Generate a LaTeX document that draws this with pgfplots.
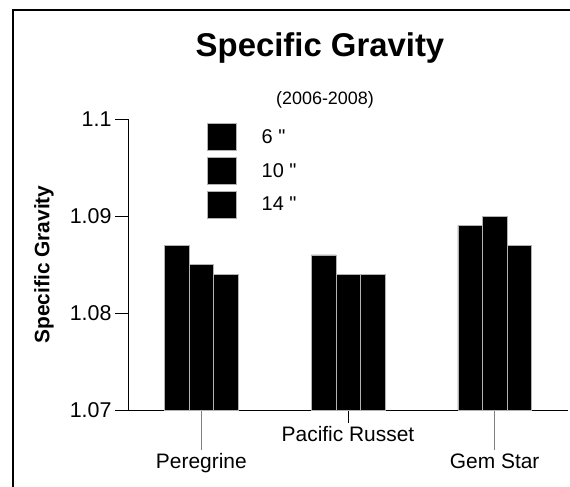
\documentclass[border=0pt]{standalone}
\usepackage{fontspec}
\setmainfont{Liberation Sans}
\usepackage{pgfplots}
\pgfplotsset{compat=1.18}
\begin{document}
\begin{tikzpicture}[x=1bp,y=1bp]
\useasboundingbox (0,0) rectangle (570,-487);
\fill[white] (0,0) rectangle (570,-487);
\draw[line width=2bp] (13,-495) -- (13,-10) -- (580,-10);
\node[font=\fontsize{33}{36}\selectfont\bfseries, anchor=base, inner sep=0pt] at (320,-57) {Specific Gravity};
\node[font=\fontsize{18}{20}\selectfont, anchor=base, inner sep=0pt] at (325,-105) {(2006-2008)};
\begin{axis}[
  at={(128bp,-410bp)}, anchor=south west,
  width=440bp, height=291bp, scale only axis,
  xmin=-0.5, xmax=2.5, ymin=1.07, ymax=1.1,
  axis lines*=left, axis line style={-, line width=0.8bp, black},
  clip=true,
  tick align=outside, major tick length=13bp,
  tick style={black, line width=0.8bp},
  ytick={1.07,1.08,1.09,1.1}, yticklabels={1.07,1.08,1.09,1.1},
  y tick label style={font=\fontsize{21.5}{23}\selectfont},
  xtick={1}, xticklabels={Pacific Russet},
  extra x ticks={0,2}, extra x tick labels={Peregrine,Gem Star},
  extra x tick style={major tick length=40bp, tick style={gray}},
  minor tick num=0,
  /pgf/number format/assume math mode=true,
  x tick label style={font=\fontsize{21}{23}\selectfont},
  ylabel={Specific Gravity},
  every axis y label/.style={at={(rel axis cs:0,0.5)}, xshift=-84bp, rotate=90, anchor=center, font=\fontsize{21}{23}\selectfont\bfseries},
  ybar=0pt, bar width=24.5bp,
  legend image code/.code={\fill[black,draw=gray!60] (0bp,-13.5bp) rectangle (29bp,13.5bp);},
  legend style={draw=none, fill=none, at={(rel axis cs:0.18,0.986)}, anchor=north west,
    inner sep=0pt, outer sep=0pt, row sep=6.5bp, column sep=24bp,
    font=\fontsize{20}{22}\selectfont, nodes={inner sep=1bp}},
  legend cell align=left,
]
\addplot[fill=black, draw=gray!60, line width=0.5bp] coordinates {(0,1.087) (1,1.086) (2,1.089)};
\addlegendentry{6 \textquotedbl}
\addplot[fill=black, draw=gray!60, line width=0.5bp] coordinates {(0,1.085) (1,1.084) (2,1.090)};
\addlegendentry{10 \textquotedbl}
\addplot[fill=black, draw=gray!60, line width=0.5bp] coordinates {(0,1.084) (1,1.084) (2,1.087)};
\addlegendentry{14 \textquotedbl}
\end{axis}
\end{tikzpicture}
\end{document}
